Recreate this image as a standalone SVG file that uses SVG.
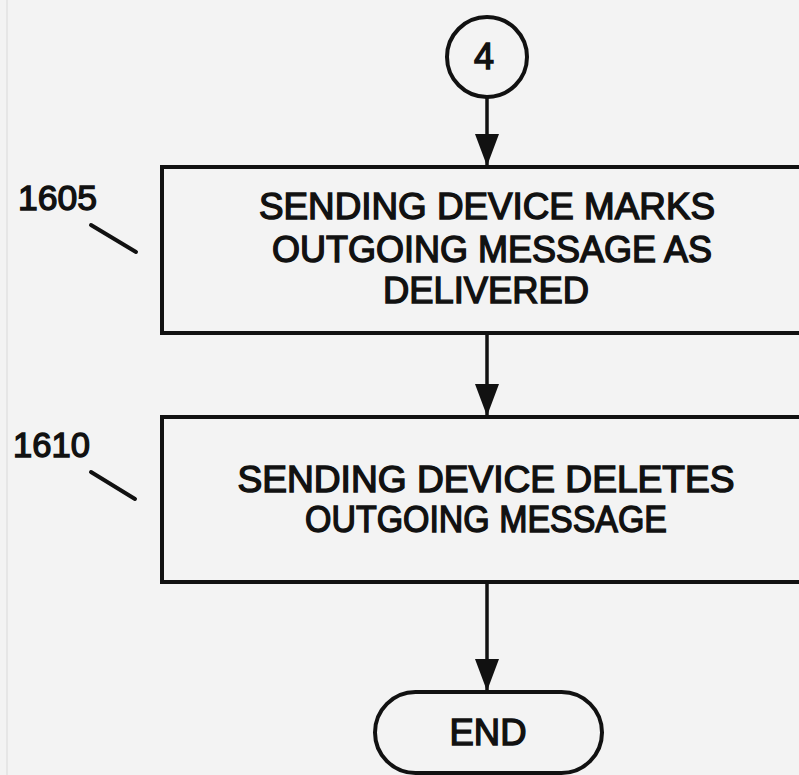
<svg xmlns="http://www.w3.org/2000/svg" width="799" height="775" viewBox="0 0 799 775">
<style>
.bg{fill:#f3f3f3}
.shape{fill:none;stroke:#111;stroke-width:4}
.conn{stroke:#111;stroke-width:3.5;fill:none}
.lead{stroke:#111;stroke-width:4;stroke-linecap:round}
.t{font-family:"Liberation Sans",Arial,sans-serif;font-size:36px;fill:#111;stroke:#111;stroke-width:1.4;text-anchor:middle}
.lbl{font-family:"Liberation Sans",Arial,sans-serif;font-size:35px;fill:#111;stroke:#111;stroke-width:1.4}
</style>
<defs>
<marker id="ah" markerUnits="userSpaceOnUse" markerWidth="32" markerHeight="24" refX="32" refY="12" orient="auto" viewBox="0 0 32 24">
<polygon points="0,0 32,12 0,24" fill="#111"/>
</marker>
</defs>
<rect class="bg" x="0" y="0" width="799" height="775"/>
<line x1="7" y1="0" x2="7" y2="775" stroke="#e2e2e2" stroke-width="1.5"/>

<g id="start">
<circle class="shape" cx="487" cy="57" r="40"/>
<text class="t" x="484" y="69" font-size="34">4</text>
</g>

<g id="n1605">
<rect class="shape" x="162" y="167" width="680" height="166"/>
<text class="t" x="487" y="219" textLength="456" lengthAdjust="spacingAndGlyphs">SENDING DEVICE MARKS</text>
<text class="t" x="492" y="262" textLength="440" lengthAdjust="spacingAndGlyphs">OUTGOING MESSAGE AS</text>
<text class="t" x="486" y="303" textLength="206" lengthAdjust="spacingAndGlyphs">DELIVERED</text>
</g>

<g id="n1610">
<rect class="shape" x="162" y="417" width="680" height="165"/>
<text class="t" x="486" y="492" textLength="497" lengthAdjust="spacingAndGlyphs">SENDING DEVICE DELETES</text>
<text class="t" x="486" y="532" textLength="362" lengthAdjust="spacingAndGlyphs">OUTGOING MESSAGE</text>
</g>

<g id="end">
<rect class="shape" x="375" y="692" width="227" height="81" rx="40.5" ry="40.5"/>
<text class="t" x="488" y="745" textLength="77" lengthAdjust="spacingAndGlyphs">END</text>
</g>

<g id="labels">
<text class="lbl" x="18" y="210" textLength="79" lengthAdjust="spacingAndGlyphs">1605</text>
<line class="lead" x1="91" y1="225" x2="136" y2="252"/>
<text class="lbl" x="13" y="457" textLength="77" lengthAdjust="spacingAndGlyphs">1610</text>
<line class="lead" x1="91" y1="472" x2="135" y2="499"/>
</g>

<g id="connectors">
<line class="conn" x1="487" y1="97" x2="487" y2="166" marker-end="url(#ah)"/>
<line class="conn" x1="487" y1="333" x2="487" y2="416" marker-end="url(#ah)"/>
<line class="conn" x1="487" y1="582" x2="487" y2="691" marker-end="url(#ah)"/>
</g>
</svg>
